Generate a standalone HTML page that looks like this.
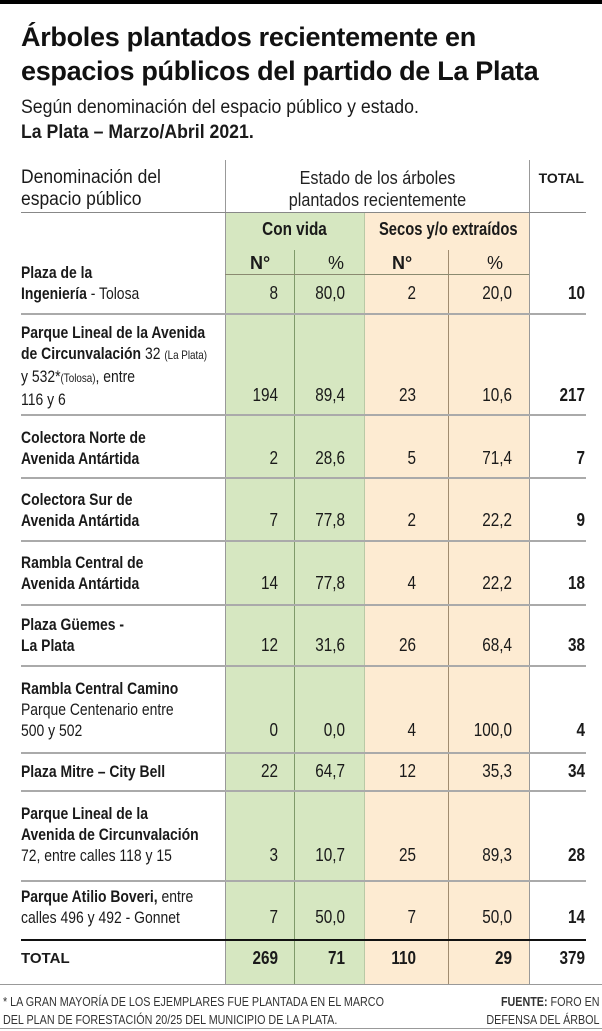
<!DOCTYPE html>
<html><head><meta charset="utf-8"><style>
body{margin:0;width:602px;height:1031px;background:#fff;position:relative;overflow:hidden;font-family:"Liberation Sans",sans-serif;color:#1a1a1a}
.a{position:absolute}
.t{font-family:"Liberation Sans",sans-serif;font-weight:bold;font-size:27px;line-height:34px;left:21px;top:20px;color:#111;letter-spacing:-0.3px}
.num{position:absolute;font-size:18px;text-align:right;line-height:20px;white-space:nowrap;transform:scaleX(0.85);transform-origin:right center}
.lab{position:absolute;left:21px;font-size:17px;line-height:21px;white-space:nowrap;transform:scaleX(0.82);transform-origin:left top}
.sc{white-space:nowrap;transform-origin:left top}
b{font-weight:bold}
.hl{position:absolute;left:21px;width:565px;height:2px;background:#aaa}
</style></head><body>
<div class="a" style="left:0;top:0;width:602px;height:4px;background:#000"></div>
<div class="a t">Árboles plantados recientemente en<br>espacios públicos del partido de La Plata</div>
<div class="a" style="left:21px;top:95px;font-size:19px;line-height:25px;white-space:nowrap;transform:scaleX(0.93);transform-origin:left top">Según denominación del espacio público y estado.<br><b>La Plata – Marzo/Abril 2021.</b></div>

<div class="a" style="left:225px;top:213px;width:139px;height:771px;background:#d6e7c1"></div>
<div class="a" style="left:364px;top:213px;width:166px;height:771px;background:#fdebd2"></div>
<div class="a" style="left:225px;top:160px;width:1px;height:824px;background:#999"></div>
<div class="a" style="left:294px;top:250px;width:1px;height:734px;background:#7f9a6a"></div>
<div class="a" style="left:364px;top:213px;width:1px;height:771px;background:#b9c9a6"></div>
<div class="a" style="left:448px;top:250px;width:1px;height:734px;background:#a08c70"></div>
<div class="a" style="left:529px;top:160px;width:1px;height:824px;background:#999"></div>

<div class="a sc" style="left:21px;top:167px;font-size:19px;line-height:22px;transform:scaleX(0.92)">Denominación del<br>espacio público</div>
<div class="a" style="left:226px;width:303px;top:167px;font-size:18px;line-height:22px;text-align:center;color:#222;transform:scaleX(0.9)">Estado de los árboles<br>plantados recientemente</div>
<div class="a" style="left:532px;width:52px;top:170px;font-size:14px;font-weight:bold;text-align:right">TOTAL</div>
<div class="hl" style="top:212px;height:1px;background:#888"></div>
<div class="a" style="left:225px;width:139px;top:219px;font-size:18px;font-weight:bold;text-align:center;white-space:nowrap;transform:scaleX(0.85)">Con vida</div>
<div class="a" style="left:364px;width:166px;top:219px;font-size:18px;font-weight:bold;text-align:center;white-space:nowrap;transform:scaleX(0.82)">Secos y/o extraídos</div>
<div class="a" style="left:250px;top:253px;font-size:18px;font-weight:bold">N°</div>
<div class="a" style="left:328px;top:253px;font-size:18px">%</div>
<div class="a" style="left:392px;top:253px;font-size:18px;font-weight:bold">N°</div>
<div class="a" style="left:487px;top:253px;font-size:18px">%</div>
<div class="a" style="left:225px;top:274px;width:304px;height:1px;background:#8a8a70"></div>

<div id="rows"></div>

<div class="a" style="left:21px;top:939px;width:565px;height:2px;background:#111"></div>
<div class="a" style="left:21px;top:950px;font-size:15px;font-weight:bold">TOTAL</div>
<div class="a" style="left:0;top:984px;width:602px;height:1px;background:#999"></div>
<div class="a sc" style="left:3px;top:993px;font-size:12.5px;line-height:18px;color:#333;transform:scaleX(0.86)">* LA GRAN MAYORÍA DE LOS EJEMPLARES FUE PLANTADA EN EL MARCO<br>DEL PLAN DE FORESTACIÓN 20/25 DEL MUNICIPIO DE LA PLATA.</div>
<div class="a" style="right:2px;top:993px;font-size:12.5px;line-height:18px;color:#333;text-align:right;white-space:nowrap;transform:scaleX(0.86);transform-origin:right top"><b>FUENTE:</b> FORO EN<br>DEFENSA DEL ÁRBOL</div>
<div class="a" style="left:0;top:1028px;width:602px;height:1px;background:#999"></div>

<script>
const labels=[
'<b>Plaza de la<br>Ingeniería</b> - Tolosa',
'<b>Parque Lineal de la Avenida<br>de Circunvalación</b> 32 <span style="font-size:12px">(La Plata)</span><br>y 532*<span style="font-size:12px">(Tolosa)</span>, entre<br>116 y 6',
'<b>Colectora Norte de<br>Avenida Antártida</b>',
'<b>Colectora Sur de<br>Avenida Antártida</b>',
'<b>Rambla Central de<br>Avenida Antártida</b>',
'<b>Plaza Güemes -<br>La Plata</b>',
'<b>Rambla Central Camino</b><br>Parque Centenario entre<br>500 y 502',
'<b>Plaza Mitre – City Bell</b>',
'<b>Parque Lineal de la<br>Avenida de Circunvalación</b><br>72, entre calles 118 y 15',
'<b>Parque Atilio Boveri,</b> entre<br>calles 496 y 492 - Gonnet'];
const vivos=[8,194,2,7,14,12,0,22,3,7];
const vivosPct=['80,0','89,4','28,6','77,8','77,8','31,6','0,0','64,7','10,7','50,0'];
const secos=[2,23,5,2,4,26,4,12,25,7];
const secosPct=['20,0','10,6','71,4','22,2','22,2','68,4','100,0','35,3','89,3','50,0'];
const totals=[10,217,7,9,18,38,4,34,28,14];
const totalRow=['269','71','110','29','379'];
const rowBottoms=[313,414,477,540,604,665,752,790,880];
const numY=[283,385,448,510,573,635,720,761,845,907];
const root=document.getElementById('rows');
function cell(txt,right,y,bold,name){
  const d=document.createElement('div');
  d.className='num';
  
  
  d.style.right=(602-right)+'px';d.style.top=y+'px';
  if(bold)d.style.fontWeight='bold';
  d.textContent=txt;root.appendChild(d);
}
labels.forEach((l,i)=>{
  const d=document.createElement('div');
  d.className='lab';
  
  
  d.innerHTML=l;
  const n=(l.match(/<br>/g)||[]).length+1;
  d.style.top=(numY[i]+21-n*21)+'px';
  root.appendChild(d);
  cell(String(vivos[i]),278,numY[i],false,'con-vida-n');
  cell(vivosPct[i],345,numY[i],false,'con-vida-pct');
  cell(String(secos[i]),416,numY[i],false,'secos-n');
  cell(secosPct[i],512,numY[i],false,'secos-pct');
  cell(String(totals[i]),585,numY[i],true,'row-total');
});
rowBottoms.forEach(y=>{
  const h=document.createElement('div');
  h.className='hl';
  
  
  h.style.top=y+'px';root.appendChild(h);
});
const tx=[278,345,416,512,585];
totalRow.forEach((v,i)=>cell(v,tx[i],948,true,'grand-total'));
</script>
</body></html>
